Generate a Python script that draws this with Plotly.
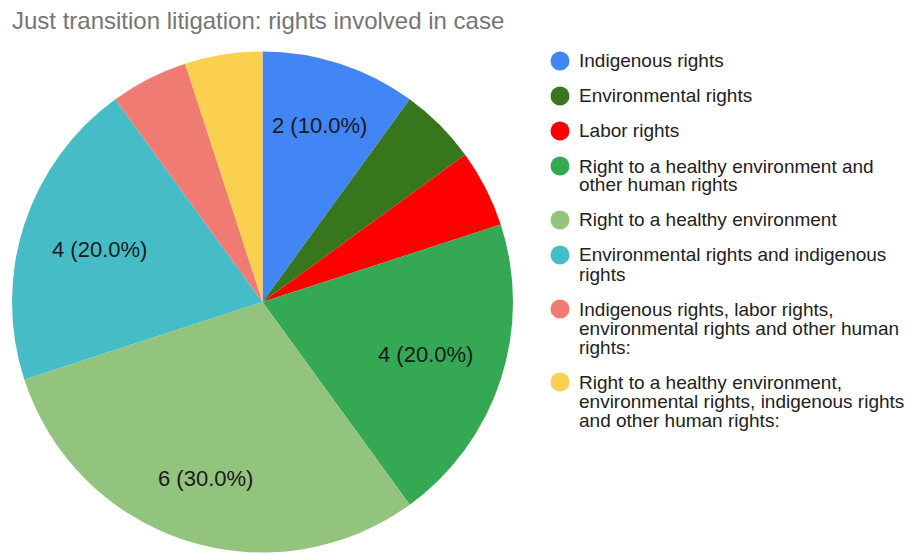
import math
import plotly.graph_objects as go

# ---- data ----
categories = [
    "Indigenous rights",
    "Environmental rights",
    "Labor rights",
    "Right to a healthy environment and\nother human rights",
    "Right to a healthy environment",
    "Environmental rights and indigenous\nrights",
    "Indigenous rights, labor rights,\nenvironmental rights and other human\nrights:",
    "Right to a healthy environment,\nenvironmental rights, indigenous rights\nand other human rights:",
]
values = [2, 1, 1, 4, 6, 4, 1, 1]
colors = ["#4285F4", "#38761D", "#FF0000", "#34A853", "#93C47D", "#46BDC6", "#F07B72", "#FCD04F"]
title_text = "Just transition litigation: rights involved in case"

# page is shown with an 8px body margin; figure fills the rest of the 912x554 window
OFF = 8
W, H = 912 - OFF, 554 - OFF
FONT = "Liberation Sans, Arial, sans-serif"


def px(x):
    return (x - OFF) / W


def py(y):
    return 1 - (y - OFF) / H


# pie geometry (in page pixels)
CX, CY, R = 262.5, 302.0, 250.5

total = sum(values)

fig = go.Figure()
fig.add_trace(go.Pie(
    labels=[c.replace("\n", " ") for c in categories],
    values=values,
    textinfo="none",
    marker=dict(colors=colors, line=dict(width=0)),
    sort=False,
    direction="clockwise",
    rotation=0,
    showlegend=False,
    hoverinfo="label+value+percent",
    domain=dict(x=[px(CX - R), px(CX + R)], y=[py(CY + R), py(CY - R)]),
))

annotations = []
shapes = []

# ---- slice labels (only slices >= 10%), placed along each slice's bisector ----
half_w, half_h = 33.0, 11.0
cum = 0.0
for v in values:
    frac = v / total
    mid = (cum + frac / 2) * 2 * math.pi
    cum += frac
    if frac < 0.1:
        continue
    dx, dy = math.sin(mid), -math.cos(mid)
    ext = half_w * abs(dx) + half_h * abs(dy)
    d = 0.822 * R - ext
    annotations.append(dict(x=px(CX + d * dx), y=py(CY + d * dy), xref="paper", yref="paper",
                            xanchor="center", yanchor="middle", showarrow=False,
                            text=f"{v} ({frac * 100:.1f}%)",
                            font=dict(family=FONT, size=22, color="#1a1a1a")))

# ---- manual legend (circle + wrapped text) ----
y = 61.0
line_h = 19.0
gap = 16.0
cx, r = 560.0, 9.5
for name, col in zip(categories, colors):
    lines = name.split("\n")
    shapes.append(dict(type="circle", xref="paper", yref="paper",
                       x0=px(cx - r), x1=px(cx + r),
                       y0=py(y + r), y1=py(y - r),
                       fillcolor=col, line=dict(width=0)))
    for i, ln in enumerate(lines):
        annotations.append(dict(x=px(577), y=py(y + i * line_h), xref="paper", yref="paper",
                                xanchor="left", yanchor="middle", showarrow=False, text=ln,
                                font=dict(family=FONT, size=19, color="#222222")))
    y += len(lines) * line_h + gap

annotations.append(dict(x=px(10), y=py(20), xref="paper", yref="paper", xanchor="left",
                        yanchor="middle", showarrow=False, text=title_text,
                        font=dict(family=FONT, size=24, color="#757575")))

fig.update_layout(
    width=W, height=H,
    margin=dict(l=0, r=0, t=0, b=0),
    paper_bgcolor="white", plot_bgcolor="white",
    shapes=shapes, annotations=annotations,
)
fig.write_html("out.html")
